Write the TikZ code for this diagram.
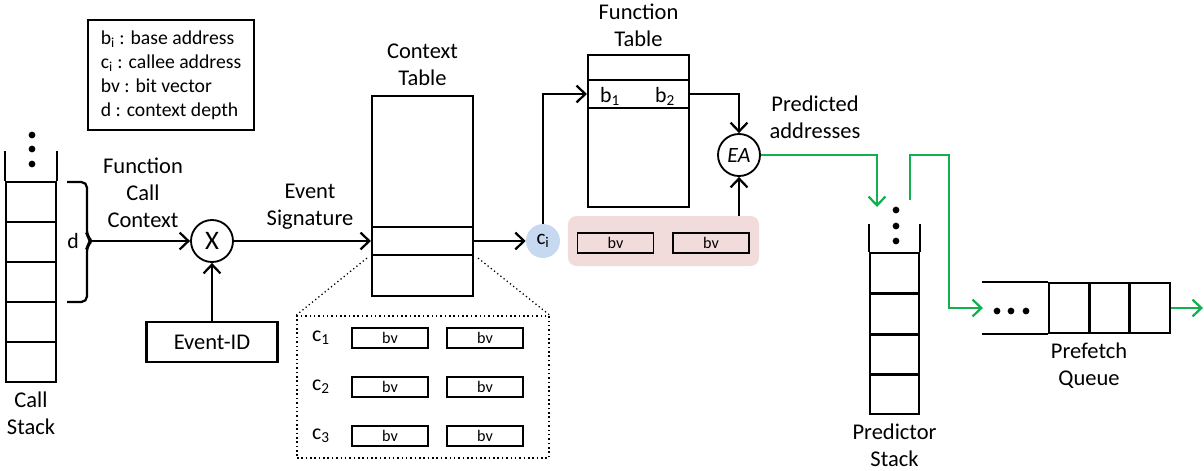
\documentclass[tikz,border=0pt]{standalone}
\usepackage{fontspec}
\setmainfont{Carlito}
\usetikzlibrary{positioning,arrows.meta}
\definecolor{pfgreen}{HTML}{12B04F}
\definecolor{cifill}{HTML}{C6D9F0}
\definecolor{bvfill}{HTML}{F2DCDB}
\tikzset{
    pflabel/.style={align=center, font=\fontsize{16}{19.2}\selectfont, inner sep=0pt},
    pftext/.style={font=\fontsize{15.5}{15.5}\selectfont, inner sep=0pt},
    pftable/.style={draw, line width=1.9pt, minimum width=2.525cm, inner sep=0pt},
    pfrow/.style={draw, line width=1.5pt, minimum width=2.525cm, inner sep=0pt},
    pfcell/.style={draw, line width=1.6pt, minimum width=1.25cm, minimum height=1cm, inner sep=0pt},
    pfbv/.style={draw, line width=1pt, minimum width=1.9cm, minimum height=0.5cm, inner sep=0pt, font=\fontsize{11.5}{11.5}\selectfont},
    pfop/.style={draw, circle, line width=1.3pt, minimum size=1.05cm, inner sep=0pt},
    pfdot/.style={circle, fill=black, minimum size=4.8pt, inner sep=0pt},
    pfarrow/.style={draw, line width=1.6pt, -{Straight Barb[length=2.2mm,width=4.2mm]}},
    pfgreenarrow/.style={pfarrow, draw=pfgreen}
}
\begin{document}
\begin{tikzpicture}[x=0.025cm, y=-0.025cm]
    \useasboundingbox (0,0) rectangle (1204,470);

    % legend
    \node[draw, line width=0.9pt, minimum width=4.15cm, minimum height=2.75cm, align=left, font=\fontsize{14}{17}\selectfont] (legend) at (171,75) {b\textsubscript{i} : base address\\c\textsubscript{i} : callee address\\bv : bit vector\\d : context depth};

    % call stack
    \foreach \y [count=\i] in {202,242,282,322,362}
        \node[pfcell] (cs\i) at (31,\y) {};
    \draw[line width=1.6pt] (cs1.north west) -- ++(0,-30);
    \draw[line width=1.6pt] (cs1.north east) -- ++(0,-30);
    \foreach \y [count=\i] in {135,149,164}
        \node[pfdot] (csdot\i) at (32,\y) {};
    \node[pflabel, below=6pt of cs5] (cslabel) {Call\\Stack};
    \draw[line width=1.6pt, rounded corners=4pt] (67,182) -- (87,182) -- (87,236) -- (92,241) -- (87,246) -- (87,302) -- (67,302);
    \coordinate (dtip) at (91,241);
    \node[pftext] (dlabel) at (73,241) {d};

    % event signature
    \node[pflabel] (fcclabel) at (143,193) {Function\\Call\\Context};
    \node[pfop, font=\fontsize{19}{19}\selectfont] (xop) at (212,241) {X};
    \node[draw, line width=2pt, minimum width=3.275cm, minimum height=1cm, font=\fontsize{16}{16}\selectfont] (eventid) at (212,342) {Event-ID};
    \node[pflabel] (siglabel) at (310,207) {Event\\Signature};
    \draw[pfarrow] (dtip) -- (xop);
    \draw[pfarrow] (eventid) -- (xop);

    % context table
    \node[pftable, minimum height=5cm] (ctx) at (422.5,196) {};
    \node[pfrow, minimum height=0.7cm] (ctxrow) at (422.5,241) {};
    \node[pflabel, above=6pt of ctx] (ctxlabel) {Context\\Table};
    \draw[pfarrow] (xop) -- (ctxrow);
    \node[circle, fill=cifill, minimum size=0.85cm, inner sep=0pt, font=\fontsize{15}{15}\selectfont] (ci) at (543,241) {c\textsubscript{i}};
    \draw[pfarrow] (ctxrow) -- (ci);

    % zoomed entries
    \node[draw, dotted, line width=1.1pt, minimum width=6.3cm, minimum height=3.55cm] (zoombox) at (423,387) {};
    \draw[dotted, line width=0.9pt] (ctxrow.south west) ++(-4,2) -- (zoombox.north west);
    \draw[dotted, line width=0.9pt] (ctxrow.south east) ++(4,2) -- (zoombox.north east);
    \foreach \y/\i in {338/1,387/2,436/3} {
        \node[pftext] (c\i) at (321,\y) {c\textsubscript{\i}};
        \node[pfbv] (bvl\i) at (390,\y) {bv};
        \node[pfbv] (bvr\i) at (485,\y) {bv};
    }

    % function table
    \node[pftable, minimum height=3.8cm] (fn) at (638.5,131) {};
    \node[pfrow, minimum height=0.7cm] (fnrow) at (638.5,94) {};
    \node[pftext] (b1) at (610,96) {b\textsubscript{1}};
    \node[pftext] (b2) at (665,96) {b\textsubscript{2}};
    \node[pflabel, above=5pt of fn] (fnlabel) {Function\\Table};
    \draw[pfarrow] (ci) |- (fnrow);
    \node[pfop, font=\itshape\fontsize{15.5}{15.5}\selectfont] (ea) at (739,155) {EA};
    \draw[pfarrow] (fnrow) -| (ea);
    \node[fill=bvfill, rounded corners=6pt, minimum width=4.775cm, minimum height=1.25cm] (bvpair) at (663.5,241) {};
    \node[pfbv] (bvl) at (615.5,243) {bv};
    \node[pfbv] (bvr) at (711,243) {bv};
    \draw[pfarrow] (bvpair.north -| ea) -- (ea);
    \node[pflabel] (predlabel) at (815,117) {Predicted\\addresses};

    % predictor stack
    \foreach \y [count=\i] in {273,314,355,394}
        \node[pfcell, minimum width=1.225cm] (ps\i) at (894.5,\y) {};
    \draw[line width=1.6pt] (ps1.north west) -- ++(0,-28);
    \draw[line width=1.6pt] (ps1.north east) -- ++(0,-28);
    \foreach \y [count=\i] in {210,226,241}
        \node[pfdot] (psdot\i) at (896,\y) {};
    \node[pflabel, below=6pt of ps4] (pslabel) {Predictor\\Stack};

    % prefetch queue
    \foreach \x [count=\i] in {1069,1109.5,1150}
        \node[pfcell, minimum width=1cm, minimum height=1.25cm] (pq\i) at (\x,308) {};
    \draw[line width=1.6pt] (pq1.north west) -- ++(-66,0);
    \draw[line width=1.6pt] (pq1.south west) -- ++(-66,0);
    \foreach \x [count=\i] in {997,1011,1026}
        \node[pfdot] (pqdot\i) at (\x,311) {};
    \node[pflabel] (pqlabel) at (1089,366) {Prefetch\\Queue};

    % green flow
    \coordinate (pushin) at (877,207);
    \coordinate (popout) at (910,200);
    \coordinate (pqturn) at (949,155);
    \coordinate (pqin) at (983,308);
    \coordinate (pqout) at (1203,308);
    \draw[pfgreenarrow] (ea) -| (pushin);
    \draw[pfgreenarrow] (popout) |- (pqturn) |- (pqin);
    \draw[pfgreenarrow] (pq3) -- (pqout);
\end{tikzpicture}
\end{document}
